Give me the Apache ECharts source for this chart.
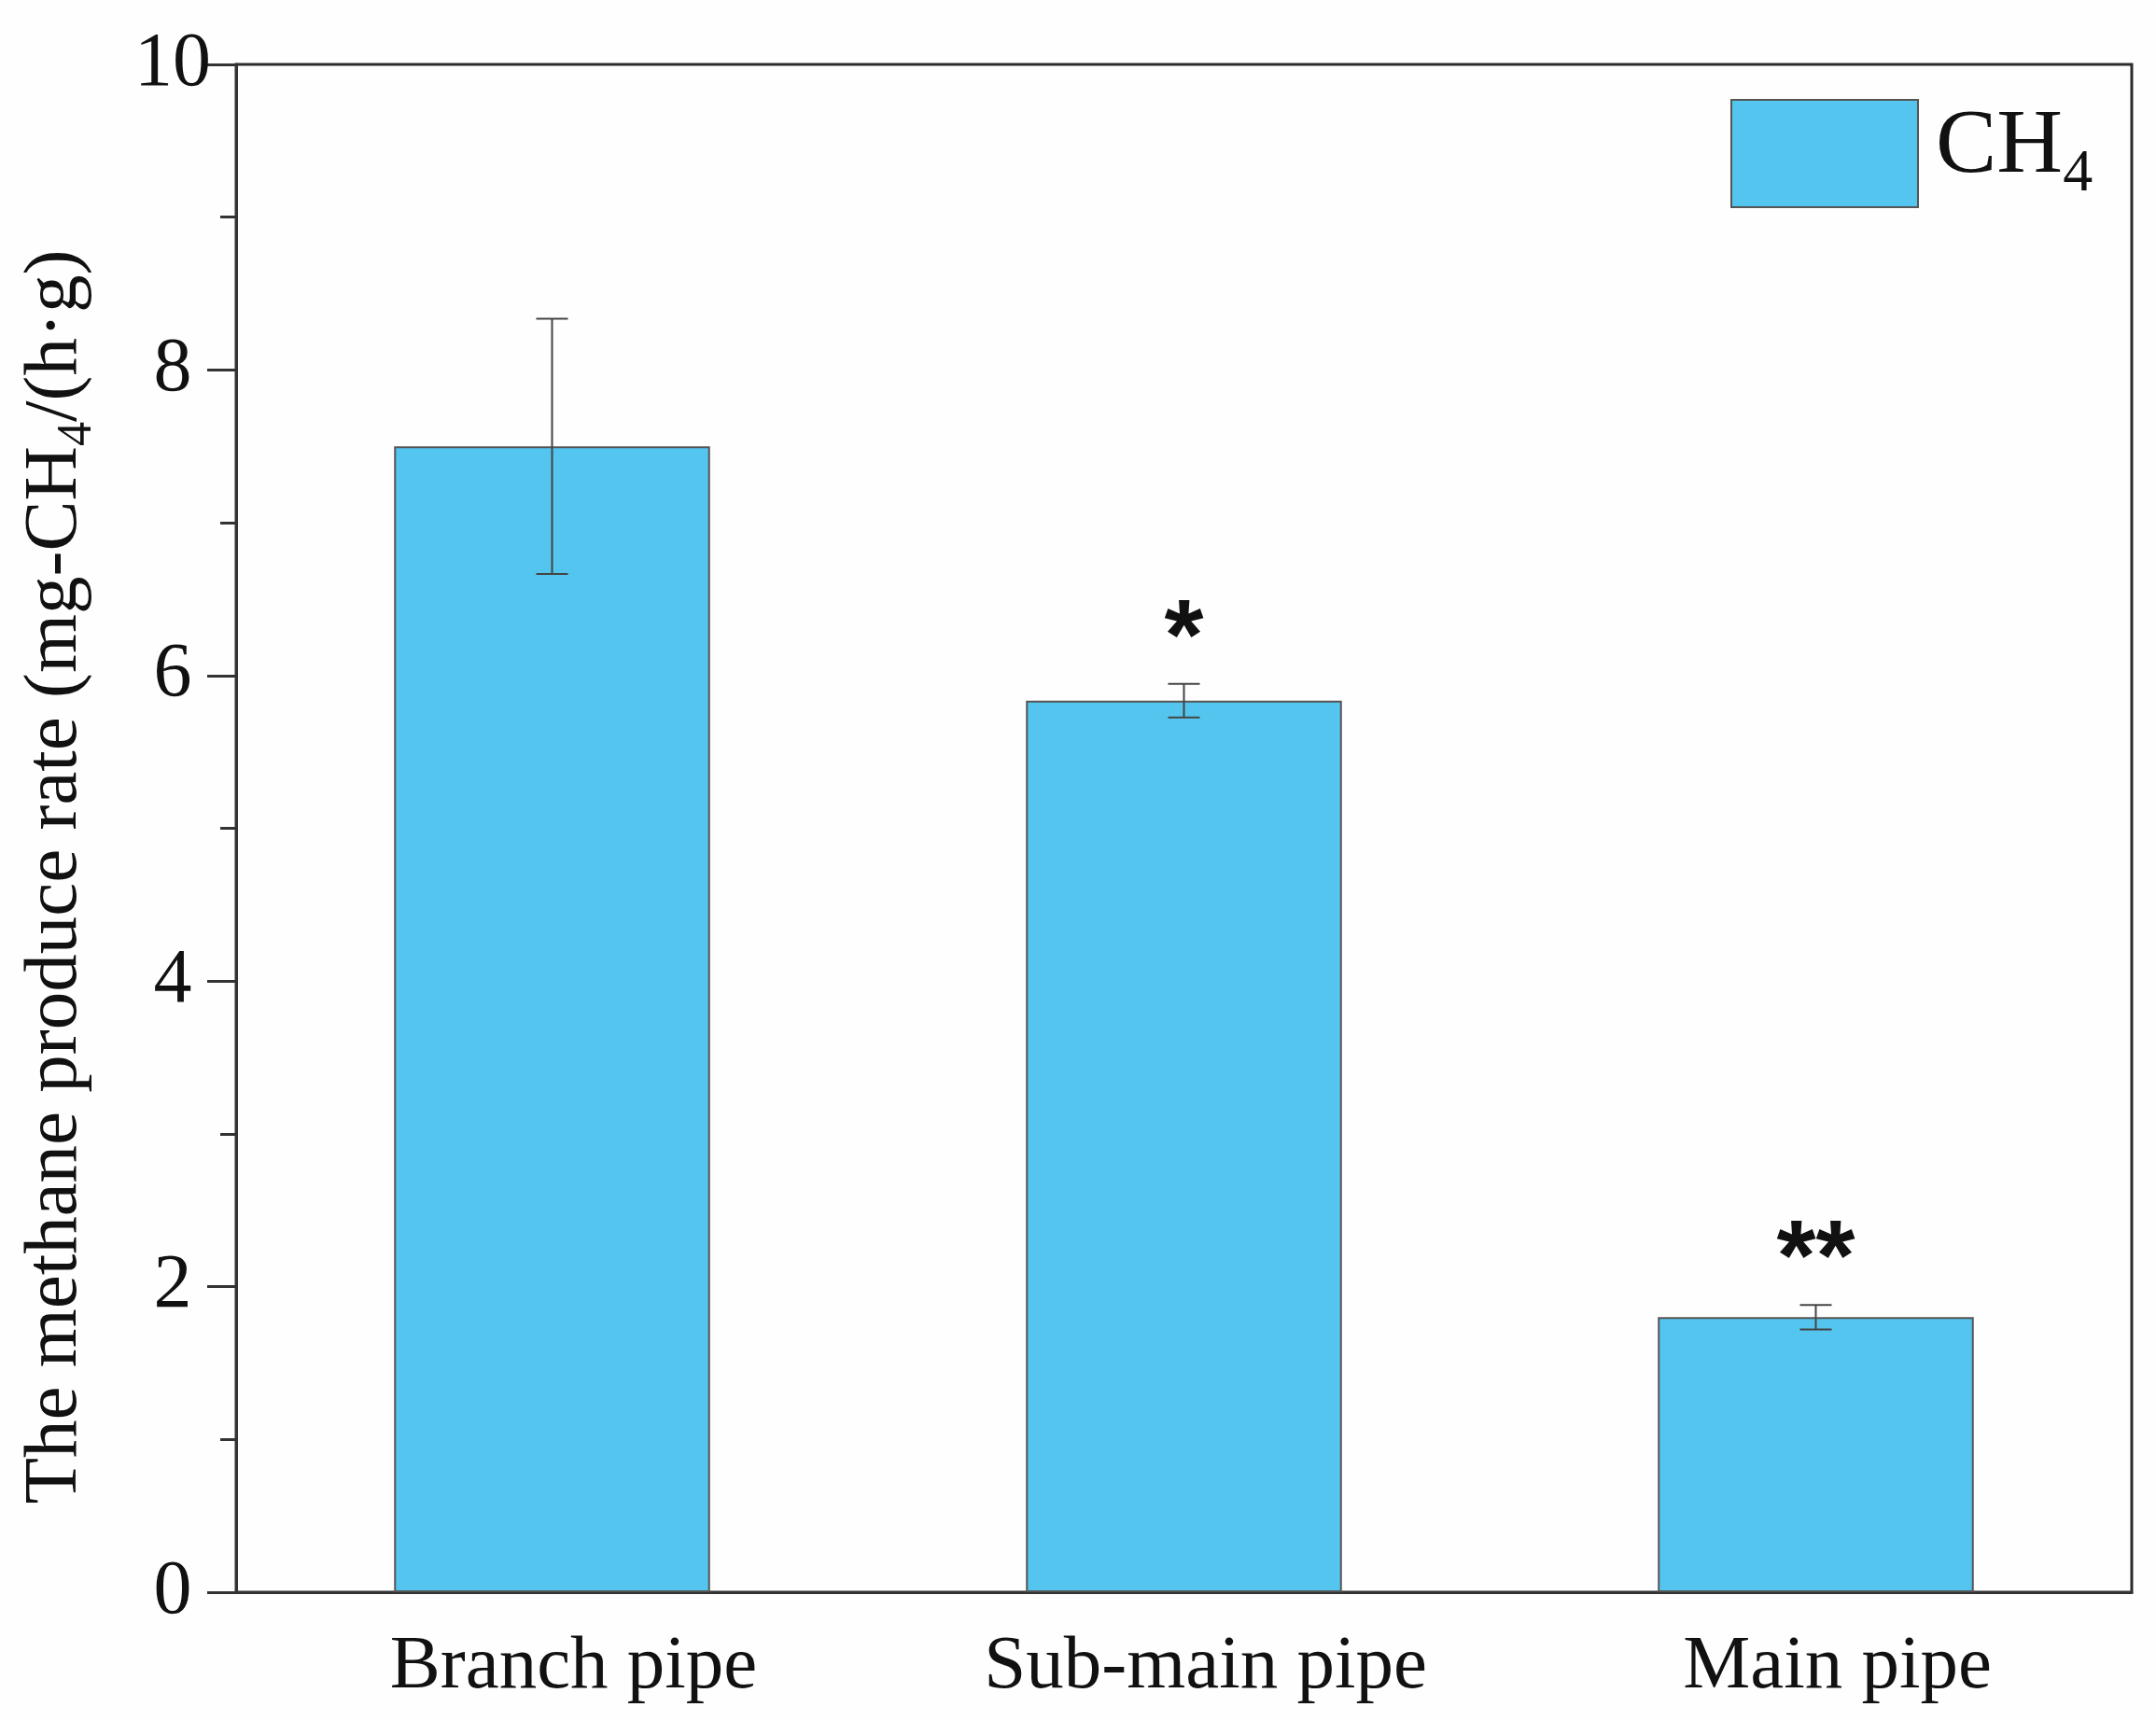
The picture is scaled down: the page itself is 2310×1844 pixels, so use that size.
<!DOCTYPE html>
<html><head><meta charset="utf-8">
<script src="https://cdn.jsdelivr.net/npm/echarts@6/dist/echarts.min.js"></script>
<style>html,body{margin:0;padding:0;background:#fff}#c{width:2310px;height:1844px}</style>
</head><body><div id="c"></div>
<script>
const categories = ['Branch pipe', 'Sub-main pipe', 'Main pipe'];
const values = [7.50, 5.835, 1.80];
const errors = [0.835, 0.11, 0.08];
const marks = ['', '*', '**'];
const yTicks = [0, 2, 4, 6, 8, 10];

const FONT = 'Liberation Serif';
const chart = echarts.init(document.getElementById('c'));
const errData = categories.map((c, i) => [i, values[i], errors[i]]);

chart.setOption({
  backgroundColor: '#fefefe',
  animation: false,
  grid: { left: 253, right: 26, top: 69, bottom: 138, show: true, borderColor: '#2a2a2a', borderWidth: 3, backgroundColor: 'transparent' },
  legend: {
    data: ['CH4'], left: 1849, top: 101, itemWidth: 200, itemHeight: 115, icon: 'rect',
    formatter: () => '{a|CH}{s|4}',
    textStyle: { padding: [0, 0, 0, 14], rich: {
      a: { fontFamily: FONT, fontSize: 98, color: '#111', lineHeight: 110, verticalAlign: 'top', padding: [0, 0, 13, 0] },
      s: { fontFamily: FONT, fontSize: 64, color: '#111', lineHeight: 62, verticalAlign: 'bottom' }
    } }
  },
  xAxis: [{
    type: 'category', data: categories, position: 'bottom',
    axisLine: { lineStyle: { color: '#333', width: 3 } },
    axisTick: { alignWithLabel: true, length: 32, lineStyle: { color: '#444', width: 2 } },
    axisLabel: { fontFamily: FONT, fontSize: 81, color: '#111', margin: 40, padding: [0, 0, 0, 46] }
  }, {
    type: 'category', data: categories, position: 'bottom',
    axisLine: { show: false },
    axisTick: { alignWithLabel: false, length: 17, lineStyle: { color: '#444', width: 2 } },
    axisLabel: { show: false }
  }],
  yAxis: {
    type: 'value', min: 0, max: 10, interval: 2,
    axisLine: { show: true, lineStyle: { color: '#333', width: 3 } },
    axisTick: { show: true, length: 31, lineStyle: { color: '#333', width: 3 } },
    minorTick: { show: true, splitNumber: 2, length: 17, lineStyle: { color: '#333', width: 3 } },
    splitLine: { show: false },
    axisLabel: { fontFamily: FONT, fontSize: 82, color: '#111', margin: 68, align: 'center',
      formatter: v => yTicks.includes(v) ? String(v) : '' },
    name: '{a|The methane produce rate (mg-CH}{s|4}{a|/(h·g)}',
    nameLocation: 'middle', nameGap: 144, nameRotate: 90,
    nameTextStyle: { padding: [0, 104, 0, 0], rich: {
      a: { fontFamily: FONT, fontSize: 81, color: '#111', lineHeight: 90, verticalAlign: 'top', padding: [0, 0, 10, 0] },
      s: { fontFamily: FONT, fontSize: 52, color: '#111', lineHeight: 52, verticalAlign: 'bottom' }
    } }
  },
  series: [{
    name: 'CH4', type: 'bar', data: values, barWidth: '50%', xAxisIndex: 0,
    itemStyle: { color: '#54C5EF', borderColor: '#555', borderWidth: 2 }
  }, {
    type: 'custom', xAxisIndex: 0, data: errData, z: 5,
    renderItem: function (params, api) {
      const i = api.value(0), v = api.value(1), e = api.value(2);
      const m = marks[params.dataIndex];
      const hi = api.coord([i, v + e]);
      const lo = api.coord([i, v - e]);
      const half = 17;
      const st = { stroke: '#444', lineWidth: 2 };
      return { type: 'group', children: [
        { type: 'line', shape: { x1: hi[0], y1: hi[1], x2: lo[0], y2: lo[1] }, style: st },
        { type: 'line', shape: { x1: hi[0] - half, y1: hi[1], x2: hi[0] + half, y2: hi[1] }, style: st },
        { type: 'line', shape: { x1: lo[0] - half, y1: lo[1], x2: lo[0] + half, y2: lo[1] }, style: st },
        { type: 'text', x: hi[0], y: hi[1] + 8, style: { text: m, fontFamily: 'Liberation Sans', fontWeight: 'bold', fontSize: 108, fill: '#111', align: 'center', verticalAlign: 'bottom' } }
      ] };
    }
  }]
});
</script></body></html>
